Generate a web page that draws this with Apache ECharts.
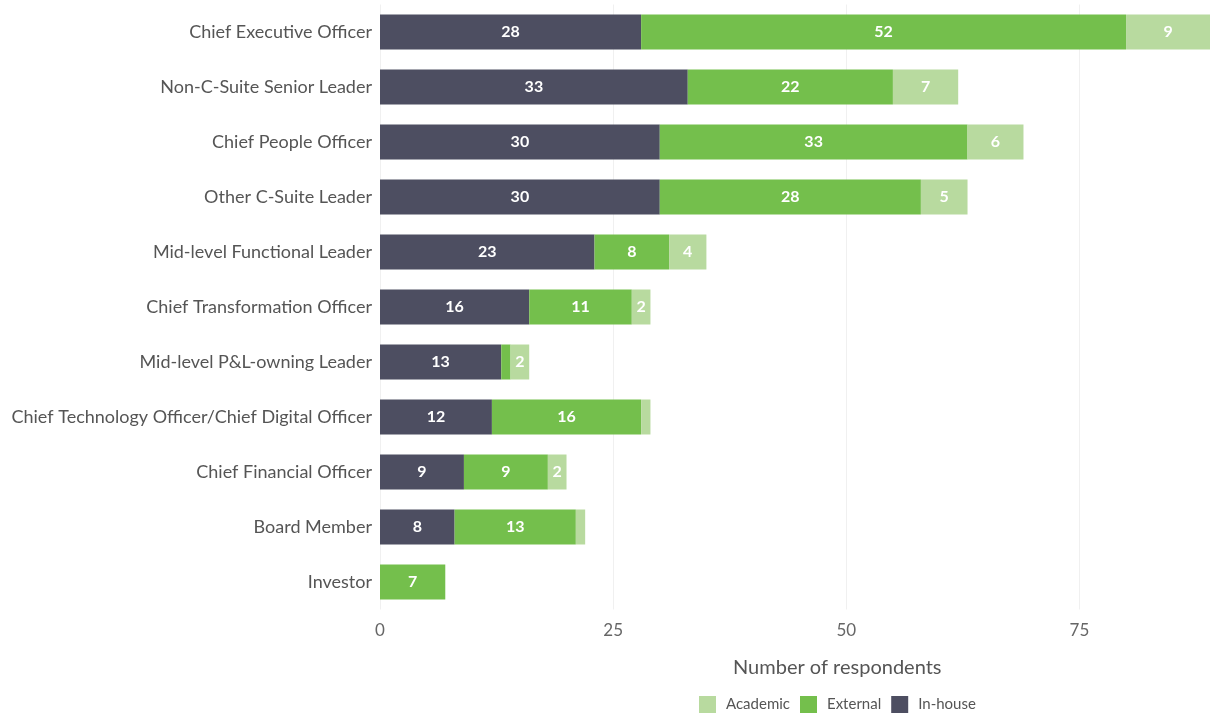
<!DOCTYPE html>
<html>
<head>
<meta charset="utf-8">
<script src="https://cdn.jsdelivr.net/npm/echarts@6/dist/echarts.min.js"></script>
<style>
  html, body { margin: 0; padding: 0; background: #fff; }
  #chart { width: 1210px; height: 713px; }
</style>
</head>
<body>
<div id="chart"></div>
<script>
// Respondent roles (top to bottom)
const roles = [
  'Chief Executive Officer',
  'Non-C-Suite Senior Leader',
  'Chief People Officer',
  'Other C-Suite Leader',
  'Mid-level Functional Leader',
  'Chief Transformation Officer',
  'Mid-level P&L-owning Leader',
  'Chief Technology Officer/Chief Digital Officer',
  'Chief Financial Officer',
  'Board Member',
  'Investor'
];
const inHouse  = [28, 33, 30, 30, 23, 16, 13, 12, 9, 8, 0];
const external = [52, 22, 33, 28, 8, 11, 1, 16, 9, 13, 7];
const academic = [9, 7, 6, 5, 4, 2, 2, 1, 2, 1, 0];
const xTicks = [0, 25, 50, 75];

const FONT = 'Lato, "Noto Sans", sans-serif';
const COLORS = { inHouse: '#4d4e61', external: '#74bf4c', academic: '#b8da9f' };

const chart = echarts.init(document.getElementById('chart'));

function segLabel() {
  return {
    show: true,
    position: 'inside',
    color: '#fff',
    fontFamily: FONT,
    fontWeight: 'bold',
    fontSize: 16,
    formatter: p => (p.value >= 2 ? String(p.value) : '')
  };
}

const maxTotal = Math.max(...roles.map((_, i) => inHouse[i] + external[i] + academic[i]));

chart.setOption({
  animation: false,
  textStyle: { fontFamily: FONT },
  grid: { left: 380, right: 0, top: 4.5, bottom: 103.5, containLabel: false },
  legend: {
    data: ['Academic', 'External', 'In-house'],
    left: 699,
    top: 696,
    padding: 0,
    itemWidth: 17,
    itemHeight: 17,
    itemGap: 10,
    icon: 'rect',
    textStyle: { color: '#555', fontSize: 15, fontFamily: FONT, padding: [0, 0, 0, 5] }
  },
  xAxis: {
    type: 'value',
    min: 0,
    max: maxTotal,
    interval: 25,
    axisLine: { show: false },
    axisTick: { show: false },
    splitLine: { show: true, lineStyle: { color: '#f0f0f0', width: 1 } },
    axisLabel: {
      color: '#666',
      fontSize: 17,
      margin: 13,
      fontFamily: FONT,
      showMaxLabel: false,
      formatter: v => (xTicks.includes(v) ? String(v) : '')
    }
  },
  yAxis: {
    type: 'category',
    data: roles,
    inverse: true,
    axisLine: { show: false },
    axisTick: { show: false },
    axisLabel: { color: '#555', fontSize: 18, margin: 8, fontFamily: FONT }
  },
  graphic: [{
    type: 'text',
    left: 733,
    top: 658,
    style: { text: 'Number of respondents', fill: '#555', fontSize: 20, fontFamily: FONT }
  }],
  series: [
    { name: 'In-house', type: 'bar', stack: 'total', data: inHouse, barWidth: 35,
      itemStyle: { color: COLORS.inHouse }, label: segLabel() },
    { name: 'External', type: 'bar', stack: 'total', data: external, barWidth: 35,
      itemStyle: { color: COLORS.external }, label: segLabel() },
    { name: 'Academic', type: 'bar', stack: 'total', data: academic, barWidth: 35,
      itemStyle: { color: COLORS.academic }, label: segLabel() }
  ]
});
</script>
</body>
</html>
